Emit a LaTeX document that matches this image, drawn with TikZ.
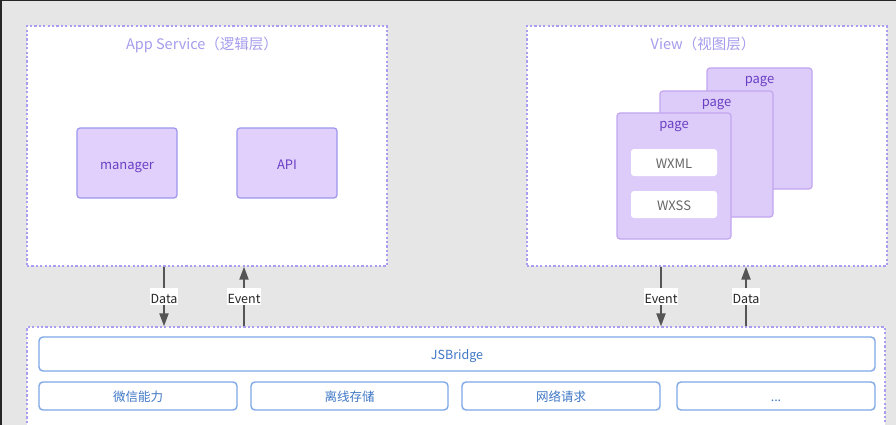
\documentclass[tikz,border=0pt]{standalone}
\usepackage{fontspec}
\setmainfont{Noto Sans CJK SC}
\usepackage{xcolor}
\usetikzlibrary{positioning,shapes,arrows.meta}

\definecolor{bgc}{HTML}{E6E6E6}
\definecolor{dashc}{HTML}{A89DF0}
\definecolor{titlec}{HTML}{A49CEC}
\definecolor{unitline}{HTML}{9C96EE}
\definecolor{unitfill}{HTML}{E0D0FB}
\definecolor{unittext}{HTML}{6A3FC4}
\definecolor{pageline}{HTML}{C2A6F0}
\definecolor{pagefill}{HTML}{DDCCF9}
\definecolor{bluel}{HTML}{7FA8E6}
\definecolor{bluet}{HTML}{3F78C6}
\definecolor{arrowc}{HTML}{555555}

\begin{document}
\begin{tikzpicture}[x=1pt,y=-1pt,
  layer/.style={draw=dashc,fill=white,line width=1.3pt,dash pattern=on 2.2pt off 2.2pt,
    minimum width=360pt,minimum height=240pt,inner sep=0pt},
  ltitle/.style={text=titlec,font=\fontsize{14.5}{16}\selectfont,text height=11pt,text depth=2.4pt},
  unit/.style={draw=unitline,fill=unitfill,rounded corners=3pt,line width=1.2pt,
    text=unittext,font=\fontsize{13}{15}\selectfont,minimum width=100pt,minimum height=70pt,
    text height=13pt,text depth=0.4pt},
  pagebox/.style={draw=pageline,fill=pagefill,rounded corners=3pt,line width=1.2pt},
  plabel/.style={text=unittext,font=\fontsize{13}{15}\selectfont,inner sep=0pt,
    text height=9pt,text depth=3pt},
  blank/.style={fill=white,rounded corners=3pt,text=black!60,minimum width=86pt,
    minimum height=27pt,font=\fontsize{13}{15}\selectfont,text height=12pt,text depth=0.4pt},
  bridge/.style={draw=bluel,fill=white,rounded corners=4pt,line width=1.4pt,text=bluet,
    minimum height=28pt,minimum width=198pt,font=\fontsize{12.5}{14}\selectfont,
    text height=12pt,text depth=0.3pt},
  flow/.style={draw=arrowc,line width=2pt,-{Triangle[length=13pt,width=9pt]}},
  tag/.style={fill=white,inner xsep=0.8pt,inner ysep=1pt,text=black!85,
    font=\fontsize{12.5}{14}\selectfont,text height=14pt,text depth=0.3pt}]

  \clip (0,0) rectangle (896,425);
  \fill[bgc] (0,0) rectangle (896,425);
  \fill[black!85] (0,0) rectangle (896,1.5);
  \fill[black!85] (0,0) rectangle (2,425);

  % upper layers
  \node[layer] (app) at (207,146) {};
  \node[ltitle] (apptitle) at (202,45) {App Service（逻辑层）};
  \node[unit] (manager) at (127,163) {manager};
  \node[unit] (api) at (287,163) {API};

  \node[layer] (view) at (707,146) {};
  \node[ltitle] (viewtitle) at (703,45) {View（视图层）};

  % stacked pages
  \node[pagebox,minimum width=105pt,minimum height=121pt] (pageC) at (759.5,128.5) {};
  \node[plabel,below=7pt of pageC.north] (pageClbl) {page};
  \node[pagebox,minimum width=113pt,minimum height=126pt] (pageB) at (716.5,154) {};
  \node[plabel,below=7pt of pageB.north] (pageBlbl) {page};
  \node[pagebox,minimum width=114pt,minimum height=126pt] (pageA) at (674,176) {};
  \node[plabel,below=7pt of pageA.north] (pageAlbl) {page};
  \node[blank] (wxml) at (674,162.5) {WXML};
  \node[blank] (wxss) at (674,204.5) {WXSS};

  % native layer
  \node[layer,minimum width=858pt,minimum height=113pt] (native) at (456,383.5) {};
  \node[bridge,minimum width=836pt,minimum height=34pt] (jsb) at (457,354) {JSBridge};
  \node[bridge] (wxcap) at (138,396) {微信能力};
  \node[bridge,minimum width=197pt] (store) at (349.5,396) {离线存储};
  \node[bridge] (net) at (561,396) {网络请求};
  \node[bridge] (more) at (776,396) {...};

  % data and events
  \coordinate (dataL) at (164,298);
  \coordinate (eventL) at (244,298);
  \coordinate (eventR) at (661,298);
  \coordinate (dataR) at (746,298);
  \draw[flow] (app.south -| dataL) -- node[tag] (dataLtag) {Data} (native.north -| dataL);
  \draw[flow] (native.north -| eventL) -- node[tag] (eventLtag) {Event} (app.south -| eventL);
  \draw[flow] (view.south -| eventR) -- node[tag] (eventRtag) {Event} (native.north -| eventR);
  \draw[flow] (native.north -| dataR) -- node[tag] (dataRtag) {Data} (view.south -| dataR);
\end{tikzpicture}
\end{document}
